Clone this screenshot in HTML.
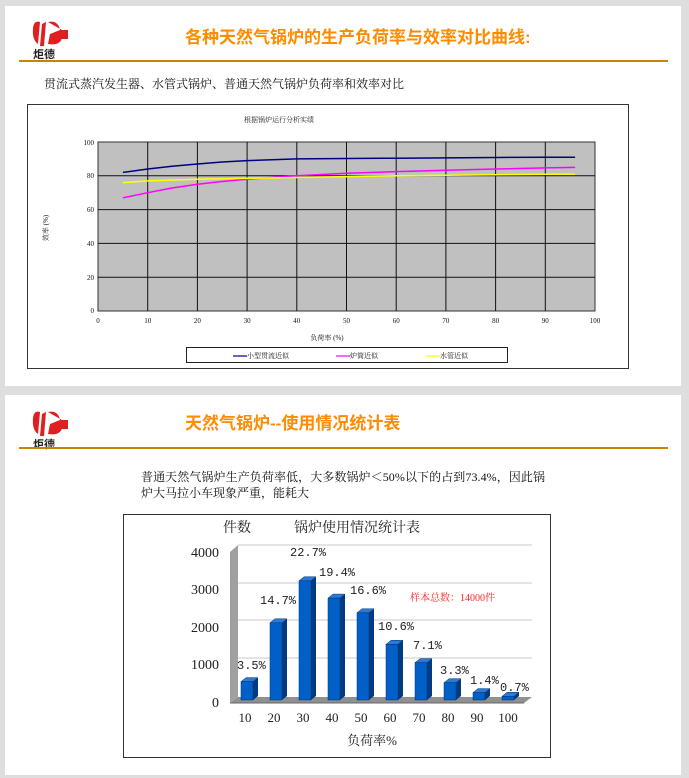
<!DOCTYPE html>
<html><head><meta charset="utf-8"><style>
body{margin:0;background:#dedede;}
svg{display:block}
text{font-family:"Liberation Serif","Noto Serif CJK SC",serif;}
.s{font-family:"Liberation Sans","Noto Sans CJK SC",sans-serif;}
.m{font-family:"Liberation Mono","Noto Serif CJK SC",monospace;}
</style></head><body>
<svg width="689" height="778" viewBox="0 0 689 778" xmlns="http://www.w3.org/2000/svg">
<rect x="0" y="0" width="689" height="778" fill="#dedede"/>
<rect x="5" y="6" width="676" height="380" fill="#fff"/>
<g>
<path d="M33 28 Q34 20 40 22 L38 44 Q32 40 33 28Z" fill="#e02020"/>
<path d="M42 24 L46 22 L44 46 L40 46Z" fill="#e02020"/>
<path d="M48 22 Q58 20 60 30 L50 34 L48 44 Q60 46 62 38 L68 38 L68 30 L62 30Z" fill="#e02020"/>
<rect x="60" y="31" width="8" height="8" fill="#e02020"/>
<text x="33" y="58" class="s" font-size="11" font-weight="bold" fill="#222">炬德</text>
</g>
<text x="185" y="43" class="s" font-size="17" font-weight="bold" fill="#ff8c00">各种天然气锅炉的生产负荷率与效率对比曲线:</text>
<rect x="19" y="60" width="649" height="2" fill="#c88400"/>
<text x="44" y="88" font-size="12" fill="#111">贯流式蒸汽发生器、水管式锅炉、普通天然气锅炉负荷率和效率对比</text>
<rect x="27.5" y="104.5" width="601" height="264" fill="#fff" stroke="#333"/>
<text x="244" y="122" font-size="7" fill="#222">根据锅炉运行分析实绩</text>
<rect x="98" y="142" width="497" height="169" fill="#c0c0c0" stroke="#333"/>
<g stroke="#111" stroke-width="1">
<line x1="147.7" y1="142" x2="147.7" y2="311"/><line x1="197.4" y1="142" x2="197.4" y2="311"/><line x1="247.1" y1="142" x2="247.1" y2="311"/><line x1="296.8" y1="142" x2="296.8" y2="311"/><line x1="346.5" y1="142" x2="346.5" y2="311"/><line x1="396.2" y1="142" x2="396.2" y2="311"/><line x1="445.9" y1="142" x2="445.9" y2="311"/><line x1="495.6" y1="142" x2="495.6" y2="311"/><line x1="545.3" y1="142" x2="545.3" y2="311"/>
<line x1="98" y1="277.2" x2="595" y2="277.2"/><line x1="98" y1="243.4" x2="595" y2="243.4"/><line x1="98" y1="209.6" x2="595" y2="209.6"/><line x1="98" y1="175.8" x2="595" y2="175.8"/>
</g>
<g font-size="7" fill="#111" text-anchor="end">
<text x="94" y="313">0</text><text x="94" y="280">20</text><text x="94" y="246">40</text><text x="94" y="212">60</text><text x="94" y="178">80</text><text x="94" y="145">100</text>
</g>
<g font-size="7" fill="#111" text-anchor="middle">
<text x="98" y="323">0</text><text x="147.7" y="323">10</text><text x="197.4" y="323">20</text><text x="247.1" y="323">30</text><text x="296.8" y="323">40</text><text x="346.5" y="323">50</text><text x="396.2" y="323">60</text><text x="445.9" y="323">70</text><text x="495.6" y="323">80</text><text x="545.3" y="323">90</text><text x="595" y="323">100</text>
<text x="327" y="340">负荷率 (%)</text>
</g>
<text transform="translate(48,228) rotate(-90)" font-size="7" fill="#111" text-anchor="middle">效率 (%)</text>
<polyline fill="none" stroke="#000080" stroke-width="1.5" points="122.9,172.4 147.7,169 172,166.3 197.4,164 222,162 247.1,160.6 296.8,158.9 346.5,158.5 396.2,158.2 445.9,157.9 495.6,157.5 545.3,157.2 575.1,157.2"/>
<polyline fill="none" stroke="#ff00ff" stroke-width="1.5" points="122.9,197.8 147.7,192.7 172,188 197.4,184.3 222,181.5 247.1,179.2 296.8,175.8 346.5,173.3 396.2,171.6 445.9,170.3 495.6,169 545.3,167.9 575.1,167.4"/>
<polyline fill="none" stroke="#ffff00" stroke-width="1.5" points="122.9,182.6 147.7,180.9 197.4,179.2 247.1,178.3 296.8,177.5 346.5,176.6 396.2,175.8 445.9,175.3 495.6,174.8 545.3,174.3 575.1,174.1"/>
<rect x="186.5" y="347.5" width="321" height="15" fill="#fff" stroke="#222"/>
<g font-size="7" fill="#111">
<line x1="233" y1="356" x2="247" y2="356" stroke="#000080" stroke-width="1.2"/><text x="247" y="358">小型贯流近似</text>
<line x1="336" y1="356" x2="350" y2="356" stroke="#ff00ff" stroke-width="1.2"/><text x="350" y="358">炉筒近似</text>
<line x1="426" y1="356" x2="440" y2="356" stroke="#ffff00" stroke-width="1.2"/><text x="440" y="358">水管近似</text>
</g>
<rect x="5" y="395" width="676" height="380" fill="#fff"/>
<g>
<path d="M33 418 Q34 410 40 412 L38 434 Q32 430 33 418Z" fill="#e02020"/>
<path d="M42 414 L46 412 L44 436 L40 436Z" fill="#e02020"/>
<path d="M48 412 Q58 410 60 420 L50 424 L48 434 Q60 436 62 428 L68 428 L68 420 L62 420Z" fill="#e02020"/>
<rect x="60" y="421" width="8" height="8" fill="#e02020"/>
<text x="33" y="448" class="s" font-size="11" font-weight="bold" fill="#222">炬德</text>
</g>
<text x="185" y="429" class="s" font-size="17" font-weight="bold" fill="#ff8c00">天然气锅炉--使用情况统计表</text>
<rect x="19" y="447" width="649" height="2" fill="#c88400"/>
<text x="141" y="481" font-size="12" fill="#111" textLength="404">普通天然气锅炉生产负荷率低，大多数锅炉＜50%以下的占到73.4%，因此锅</text>
<text x="141" y="497" font-size="12" fill="#111">炉大马拉小车现象严重，能耗大</text>
<rect x="123.5" y="514.5" width="427" height="243" fill="#fff" stroke="#333"/>
<text x="223" y="532" font-size="14" fill="#222">件数</text>
<text x="294" y="532" font-size="14" fill="#222">锅炉使用情况统计表</text>
<polygon points="230,552 238,545 238,697 230,703" fill="#a0a0a0"/>
<g stroke="#c8c8c8"><line x1="238" y1="545" x2="532" y2="545"/><line x1="238" y1="583" x2="532" y2="583"/><line x1="238" y1="620" x2="532" y2="620"/><line x1="238" y1="658" x2="532" y2="658"/></g>
<polygon points="230,703 238,697 532,697 524,703" fill="#909090"/>
<line x1="230" y1="703" x2="524" y2="703" stroke="#666"/>
<g font-size="14" fill="#222" text-anchor="end">
<text x="219" y="707">0</text><text x="219" y="669">1000</text><text x="219" y="632">2000</text><text x="219" y="594">3000</text><text x="219" y="557">4000</text>
</g>
<g>
<polygon points="241,681.6 246,677.6 258,677.6 253,681.6" fill="#2a7ad8" stroke="#003070" stroke-width=".5"/><polygon points="253,681.6 258,677.6 258,696 253,700" fill="#003a80"/><rect x="241" y="681.6" width="12" height="18.4" fill="#0060c8" stroke="#003070" stroke-width=".5"/>
<polygon points="270,622.8 275,618.8 287,618.8 282,622.8" fill="#2a7ad8" stroke="#003070" stroke-width=".5"/><polygon points="282,622.8 287,618.8 287,696 282,700" fill="#003a80"/><rect x="270" y="622.8" width="12" height="77.2" fill="#0060c8" stroke="#003070" stroke-width=".5"/>
<polygon points="299,580.8 304,576.8 316,576.8 311,580.8" fill="#2a7ad8" stroke="#003070" stroke-width=".5"/><polygon points="311,580.8 316,576.8 316,696 311,700" fill="#003a80"/><rect x="299" y="580.8" width="12" height="119.2" fill="#0060c8" stroke="#003070" stroke-width=".5"/>
<polygon points="328,598.1 333,594.1 345,594.1 340,598.1" fill="#2a7ad8" stroke="#003070" stroke-width=".5"/><polygon points="340,598.1 345,594.1 345,696 340,700" fill="#003a80"/><rect x="328" y="598.1" width="12" height="101.9" fill="#0060c8" stroke="#003070" stroke-width=".5"/>
<polygon points="357,612.8 362,608.8 374,608.8 369,612.8" fill="#2a7ad8" stroke="#003070" stroke-width=".5"/><polygon points="369,612.8 374,608.8 374,696 369,700" fill="#003a80"/><rect x="357" y="612.8" width="12" height="87.2" fill="#0060c8" stroke="#003070" stroke-width=".5"/>
<polygon points="386,644.3 391,640.3 403,640.3 398,644.3" fill="#2a7ad8" stroke="#003070" stroke-width=".5"/><polygon points="398,644.3 403,640.3 403,696 398,700" fill="#003a80"/><rect x="386" y="644.3" width="12" height="55.7" fill="#0060c8" stroke="#003070" stroke-width=".5"/>
<polygon points="415,662.7 420,658.7 432,658.7 427,662.7" fill="#2a7ad8" stroke="#003070" stroke-width=".5"/><polygon points="427,662.7 432,658.7 432,696 427,700" fill="#003a80"/><rect x="415" y="662.7" width="12" height="37.3" fill="#0060c8" stroke="#003070" stroke-width=".5"/>
<polygon points="444,682.7 449,678.7 461,678.7 456,682.7" fill="#2a7ad8" stroke="#003070" stroke-width=".5"/><polygon points="456,682.7 461,678.7 461,696 456,700" fill="#003a80"/><rect x="444" y="682.7" width="12" height="17.3" fill="#0060c8" stroke="#003070" stroke-width=".5"/>
<polygon points="473,692.6 478,688.6 490,688.6 485,692.6" fill="#2a7ad8" stroke="#003070" stroke-width=".5"/><polygon points="485,692.6 490,688.6 490,696 485,700" fill="#003a80"/><rect x="473" y="692.6" width="12" height="7.4" fill="#0060c8" stroke="#003070" stroke-width=".5"/>
<polygon points="502,696.3 507,692.3 519,692.3 514,696.3" fill="#2a7ad8" stroke="#003070" stroke-width=".5"/><polygon points="514,696.3 519,692.3 519,696 514,700" fill="#003a80"/><rect x="502" y="696.3" width="12" height="3.7" fill="#0060c8" stroke="#003070" stroke-width=".5"/>
</g>
<g font-size="12" fill="#222" class="m">
<text class="m" x="237" y="669">3.5%</text><text class="m" x="260" y="604">14.7%</text><text class="m" x="290" y="556">22.7%</text><text class="m" x="319" y="576">19.4%</text><text class="m" x="350" y="594">16.6%</text><text class="m" x="378" y="630">10.6%</text><text class="m" x="413" y="649">7.1%</text><text class="m" x="440" y="674">3.3%</text><text class="m" x="470" y="684">1.4%</text><text class="m" x="500" y="691">0.7%</text>
</g>
<text x="410" y="601" font-size="10" fill="#ff2020">样本总数：14000件</text>
<g font-size="13" fill="#222" text-anchor="middle">
<text x="245" y="722">10</text><text x="274" y="722">20</text><text x="303" y="722">30</text><text x="332" y="722">40</text><text x="361" y="722">50</text><text x="390" y="722">60</text><text x="419" y="722">70</text><text x="448" y="722">80</text><text x="477" y="722">90</text><text x="508" y="722">100</text>
<text x="372" y="745">负荷率%</text>
</g>
</svg>
</body></html>
